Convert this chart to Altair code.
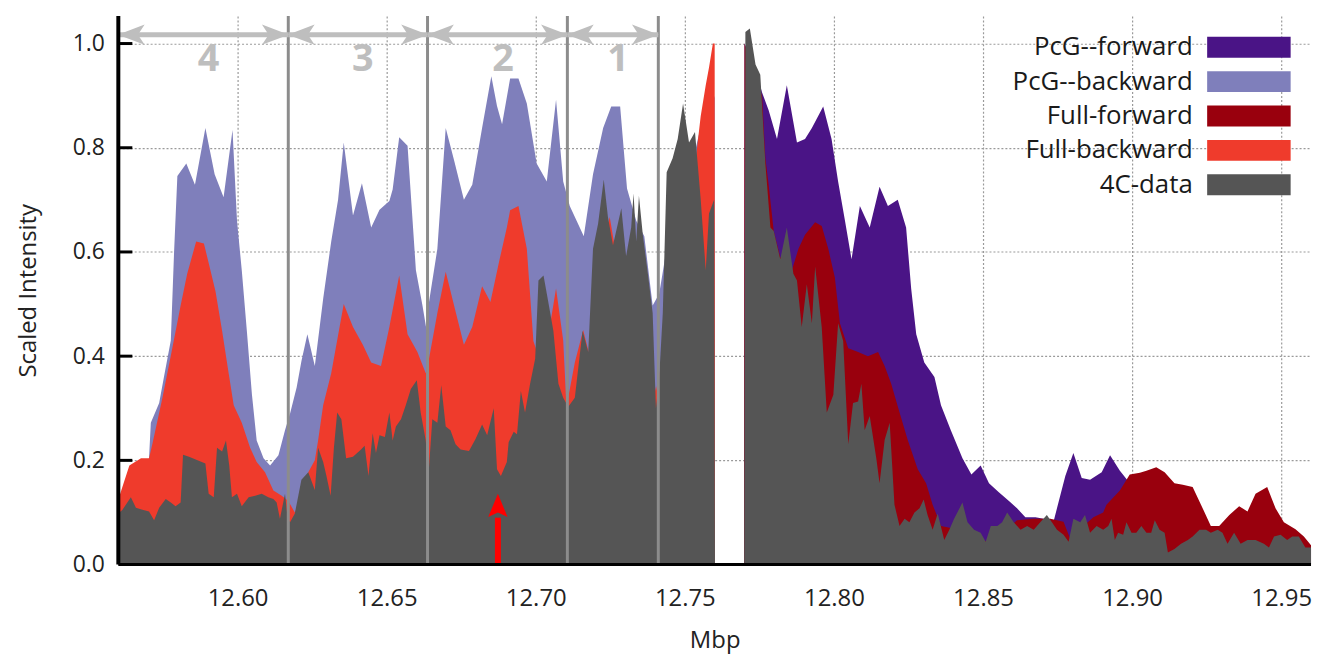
import altair as alt
import pandas as pd

FONT = "Open Sans"

# ---------------- series (legend order) ----------------
SERIES = ["PcG--forward", "PcG--backward", "Full-forward", "Full-backward", "4C-data"]
COLORS = ["#4A1486", "#7F7FBB", "#99000D", "#EF3B2C", "#555555"]
DRAW_ORDER = ["PcG--backward", "PcG--forward", "Full-forward", "Full-backward", "4C-data"]

# ---------------- 4C-data ----------------
c4_x = [12.5600, 12.5614, 12.5642, 12.5659, 12.5681, 12.5703, 12.5720, 12.5737, 12.5759, 12.5776,
        12.5792, 12.5809, 12.5817, 12.5837, 12.5892, 12.5903, 12.5920, 12.5931, 12.5948, 12.5961,
        12.5972, 12.5981, 12.5998, 12.6014, 12.6037, 12.6059, 12.6081, 12.6103, 12.6120, 12.6131,
        12.6142, 12.6159, 12.6168, 12.6176, 12.6192, 12.6214, 12.6237, 12.6259, 12.6270, 12.6287,
        12.6298, 12.6312, 12.6323, 12.6334, 12.6348, 12.6364, 12.6387, 12.6414, 12.6426, 12.6439,
        12.6453, 12.6464, 12.6476, 12.6494, 12.6509, 12.6520, 12.6531, 12.6548, 12.6564, 12.6581,
        12.6601, 12.6614, 12.6631, 12.6640, 12.6653, 12.6670, 12.6683, 12.6698, 12.6714, 12.6731,
        12.6748, 12.6776, 12.6798, 12.6820, 12.6837, 12.6859, 12.6870, 12.6883, 12.6903, 12.6909,
        12.6926, 12.6937, 12.6950, 12.6964, 12.6981, 12.6998, 12.7009, 12.7026, 12.7042, 12.7059,
        12.7076, 12.7092, 12.7109, 12.7131, 12.7157, 12.7176, 12.7192, 12.7209, 12.7228, 12.7242,
        12.7259, 12.7287, 12.7303, 12.7320, 12.7328, 12.7337, 12.7346, 12.7359, 12.7376, 12.7392,
        12.7403, 12.7414, 12.7426, 12.7439, 12.7459, 12.7476, 12.7494, 12.7514, 12.7534, 12.7553,
        12.7570, 12.7581, 12.7598, 12.7601, 12.7699, 12.7703, 12.7718, 12.7737, 12.7753, 12.7770,
        12.7787, 12.7798, 12.7820, 12.7842, 12.7864, 12.7876, 12.7892, 12.7909, 12.7926, 12.7937,
        12.7959, 12.7976, 12.7998, 12.8014, 12.8031, 12.8048, 12.8064, 12.8081, 12.8092, 12.8103,
        12.8120, 12.8142, 12.8153, 12.8170, 12.8187, 12.8203, 12.8220, 12.8237, 12.8253, 12.8270,
        12.8287, 12.8301, 12.8314, 12.8331, 12.8348, 12.8370, 12.8387, 12.8403, 12.8431, 12.8448,
        12.8470, 12.8492, 12.8509, 12.8526, 12.8548, 12.8564, 12.8581, 12.8603, 12.8626, 12.8648,
        12.8670, 12.8692, 12.8714, 12.8731, 12.8748, 12.8770, 12.8787, 12.8803, 12.8826, 12.8842,
        12.8859, 12.8881, 12.8903, 12.8920, 12.8931, 12.8942, 12.8953, 12.8970, 12.8981, 12.8998,
        12.9014, 12.9031, 12.9048, 12.9064, 12.9076, 12.9092, 12.9109, 12.9120, 12.9142, 12.9164,
        12.9187, 12.9203, 12.9226, 12.9248, 12.9264, 12.9287, 12.9303, 12.9320, 12.9342, 12.9364,
        12.9387, 12.9414, 12.9442, 12.9459, 12.9476, 12.9498, 12.9520, 12.9537, 12.9559, 12.9581,
        12.9600]
c4_y = [0.098, 0.105, 0.129, 0.109, 0.105, 0.102, 0.085, 0.109, 0.126, 0.119,
        0.112, 0.119, 0.211, 0.207, 0.194, 0.136, 0.129, 0.224, 0.217, 0.238,
        0.190, 0.129, 0.136, 0.112, 0.129, 0.132, 0.136, 0.129, 0.126, 0.119,
        0.088, 0.136, 0.088, 0.081, 0.098, 0.163, 0.177, 0.143, 0.224, 0.197,
        0.170, 0.132, 0.224, 0.292, 0.279, 0.204, 0.207, 0.221, 0.228, 0.170,
        0.252, 0.214, 0.248, 0.245, 0.292, 0.238, 0.265, 0.279, 0.306, 0.337,
        0.354, 0.292, 0.238, 0.170, 0.279, 0.272, 0.344, 0.265, 0.258, 0.231,
        0.221, 0.218, 0.241, 0.269, 0.248, 0.300, 0.183, 0.170, 0.197, 0.235,
        0.255, 0.250, 0.333, 0.292, 0.347, 0.395, 0.545, 0.555, 0.504, 0.449,
        0.347, 0.320, 0.303, 0.320, 0.449, 0.408, 0.606, 0.654, 0.739, 0.667,
        0.613, 0.684, 0.592, 0.647, 0.712, 0.620, 0.708, 0.633, 0.558, 0.483,
        0.300, 0.360, 0.483, 0.753, 0.780, 0.817, 0.885, 0.810, 0.830, 0.702,
        0.565, 0.674, 0.700, 0.000, 0.000, 1.022, 1.029, 0.960, 0.940, 0.770,
        0.647, 0.640, 0.586, 0.647, 0.558, 0.545, 0.456, 0.538, 0.463, 0.572,
        0.456, 0.292, 0.326, 0.463, 0.429, 0.231, 0.310, 0.313, 0.347, 0.258,
        0.285, 0.204, 0.156, 0.239, 0.272, 0.115, 0.074, 0.088, 0.081, 0.100,
        0.108, 0.125, 0.095, 0.067, 0.098, 0.047, 0.067, 0.088, 0.119, 0.081,
        0.067, 0.061, 0.044, 0.074, 0.074, 0.081, 0.100, 0.081, 0.067, 0.074,
        0.067, 0.081, 0.095, 0.081, 0.067, 0.057, 0.044, 0.088, 0.081, 0.095,
        0.061, 0.074, 0.067, 0.074, 0.088, 0.047, 0.061, 0.057, 0.081, 0.061,
        0.061, 0.074, 0.061, 0.061, 0.085, 0.067, 0.061, 0.023, 0.030, 0.040,
        0.047, 0.054, 0.067, 0.067, 0.061, 0.067, 0.061, 0.040, 0.061, 0.040,
        0.047, 0.047, 0.040, 0.033, 0.054, 0.057, 0.047, 0.054, 0.054, 0.033,
        0.033]

# ---------------- Full-backward ----------------
full_bw_x = [12.5600, 12.5637, 12.5676, 12.5703, 12.5714, 12.5748, 12.5781, 12.5809, 12.5831, 12.5861,
             12.5887, 12.5903, 12.5926, 12.5948, 12.5970, 12.5987, 12.6014, 12.6042, 12.6064, 12.6092,
             12.6120, 12.6148, 12.6170, 12.6192, 12.6214, 12.6237, 12.6259, 12.6270, 12.6287, 12.6314,
             12.6356, 12.6387, 12.6420, 12.6448, 12.6481, 12.6509, 12.6542, 12.6570, 12.6603, 12.6631,
             12.6642, 12.6670, 12.6698, 12.6726, 12.6759, 12.6787, 12.6820, 12.6848, 12.6876, 12.6903,
             12.6914, 12.6942, 12.6970, 12.6992, 12.7009, 12.7048, 12.7068, 12.7092, 12.7103, 12.7131,
             12.7159, 12.7181, 12.7203, 12.7248, 12.7264, 12.7292, 12.7337, 12.7378, 12.7403, 12.7426,
             12.7459, 12.7492, 12.7537, 12.7553, 12.7570, 12.7581, 12.7594, 12.7600, 12.7601]
full_bw_y = [0.125, 0.190, 0.204, 0.204, 0.231, 0.320, 0.415, 0.497, 0.558, 0.620,
             0.616, 0.579, 0.524, 0.449, 0.367, 0.306, 0.272, 0.224, 0.197, 0.177,
             0.142, 0.132, 0.122, 0.100, 0.130, 0.177, 0.200, 0.238, 0.306, 0.367,
             0.500, 0.456, 0.422, 0.388, 0.381, 0.456, 0.555, 0.442, 0.408, 0.367,
             0.395, 0.483, 0.562, 0.497, 0.422, 0.456, 0.534, 0.504, 0.579, 0.647,
             0.680, 0.688, 0.606, 0.429, 0.400, 0.460, 0.530, 0.430, 0.303, 0.388,
             0.450, 0.400, 0.550, 0.667, 0.613, 0.550, 0.500, 0.400, 0.333, 0.400,
             0.550, 0.650, 0.780, 0.860, 0.920, 0.954, 1.000, 1.000, 0.000]

# ---------------- Full-forward ----------------
full_fw_x = [12.7699, 12.7700, 12.7759, 12.7770, 12.7781, 12.7798, 12.7820, 12.7837, 12.7859, 12.7881,
             12.7903, 12.7937, 12.7959, 12.7981, 12.8003, 12.8020, 12.8048, 12.8081, 12.8114, 12.8148,
             12.8170, 12.8192, 12.8220, 12.8248, 12.8281, 12.8309, 12.8331, 12.8359, 12.8392, 12.8448,
             12.8537, 12.8614, 12.8670, 12.8726, 12.8770, 12.8792, 12.8837, 12.8870, 12.8903, 12.8914,
             12.8959, 12.8992, 12.9026, 12.9048, 12.9081, 12.9109, 12.9142, 12.9170, 12.9203, 12.9231,
             12.9264, 12.9292, 12.9326, 12.9359, 12.9387, 12.9414, 12.9453, 12.9481, 12.9509, 12.9548,
             12.9576, 12.9600]
full_fw_y = [0.000, 1.000, 0.900, 0.780, 0.729, 0.640, 0.590, 0.580, 0.565, 0.606,
             0.633, 0.657, 0.650, 0.606, 0.551, 0.463, 0.415, 0.408, 0.400, 0.408,
             0.381, 0.347, 0.292, 0.238, 0.183, 0.156, 0.115, 0.074, 0.070, 0.045,
             0.045, 0.085, 0.088, 0.088, 0.082, 0.050, 0.074, 0.091, 0.100, 0.115,
             0.142, 0.173, 0.176, 0.180, 0.187, 0.177, 0.156, 0.153, 0.149, 0.115,
             0.074, 0.074, 0.095, 0.112, 0.102, 0.136, 0.149, 0.108, 0.081, 0.068,
             0.054, 0.037]

# ---------------- PcG--backward ----------------
pcg_bw_x = [12.5600, 12.5681, 12.5703, 12.5709, 12.5737, 12.5753, 12.5776, 12.5787, 12.5798, 12.5828,
            12.5857, 12.5892, 12.5923, 12.5953, 12.5983, 12.5998, 12.6014, 12.6031, 12.6048, 12.6064,
            12.6087, 12.6109, 12.6137, 12.6159, 12.6176, 12.6198, 12.6214, 12.6234, 12.6259, 12.6287,
            12.6314, 12.6337, 12.6356, 12.6387, 12.6417, 12.6448, 12.6476, 12.6509, 12.6520, 12.6542,
            12.6570, 12.6598, 12.6620, 12.6634, 12.6642, 12.6670, 12.6698, 12.6726, 12.6759, 12.6787,
            12.6820, 12.6851, 12.6870, 12.6887, 12.6914, 12.6942, 12.6970, 12.7003, 12.7037, 12.7068,
            12.7092, 12.7114, 12.7137, 12.7161, 12.7192, 12.7226, 12.7253, 12.7283, 12.7306, 12.7337,
            12.7364, 12.7392, 12.7414, 12.7437, 12.7470, 12.7503, 12.7537, 12.7553, 12.7590, 12.7600,
            12.7601]
pcg_bw_y = [0.120, 0.190, 0.204, 0.272, 0.310, 0.360, 0.430, 0.600, 0.746, 0.770,
            0.729, 0.838, 0.749, 0.705, 0.834, 0.660, 0.565, 0.449, 0.327, 0.238,
            0.204, 0.190, 0.210, 0.258, 0.290, 0.340, 0.390, 0.442, 0.381, 0.510,
            0.620, 0.700, 0.810, 0.670, 0.732, 0.647, 0.681, 0.698, 0.720, 0.820,
            0.804, 0.565, 0.497, 0.449, 0.504, 0.606, 0.838, 0.776, 0.700, 0.729,
            0.838, 0.937, 0.880, 0.845, 0.933, 0.933, 0.885, 0.770, 0.735, 0.892,
            0.735, 0.688, 0.660, 0.630, 0.749, 0.838, 0.879, 0.879, 0.722, 0.660,
            0.630, 0.497, 0.520, 0.600, 0.680, 0.760, 0.800, 0.840, 0.880, 0.900,
            0.000]

# ---------------- PcG--forward ----------------
pcg_fw_x = [12.7699, 12.7700, 12.7737, 12.7759, 12.7781, 12.7809, 12.7842, 12.7876, 12.7903, 12.7926,
            12.7964, 12.7992, 12.8014, 12.8037, 12.8059, 12.8087, 12.8120, 12.8153, 12.8181, 12.8214,
            12.8242, 12.8259, 12.8276, 12.8303, 12.8337, 12.8359, 12.8392, 12.8431, 12.8461, 12.8492,
            12.8520, 12.8553, 12.8587, 12.8614, 12.8642, 12.8676, 12.8703, 12.8731, 12.8748, 12.8776,
            12.8803, 12.8831, 12.8859, 12.8898, 12.8926, 12.8959, 12.8987, 12.9003, 12.9100, 12.9300,
            12.9600]
pcg_fw_y = [0.000, 1.000, 0.950, 0.906, 0.872, 0.817, 0.920, 0.810, 0.817, 0.838,
            0.879, 0.817, 0.735, 0.660, 0.586, 0.688, 0.647, 0.725, 0.688, 0.700,
            0.647, 0.530, 0.442, 0.388, 0.360, 0.306, 0.258, 0.204, 0.173, 0.190,
            0.156, 0.139, 0.122, 0.108, 0.091, 0.091, 0.088, 0.070, 0.108, 0.170,
            0.214, 0.166, 0.163, 0.177, 0.210, 0.180, 0.160, 0.120, 0.080, 0.060,
            0.030]

# ---------------- annotations ----------------
boundary_x = [12.6170, 12.6637, 12.7106, 12.7411]
arrow_start = [12.5600, 12.6170, 12.6637, 12.7106]
arrow_end = [12.6170, 12.6637, 12.7106, 12.7411]
region_labels = ["4", "3", "2", "1"]
region_label_x = [12.5903, 12.6420, 12.6890, 12.7276]
ARROW_LEVEL = 1.017
REGION_LABEL_LEVEL = 0.969
red_arrow_x = [12.6873]

# ---------------- axes ----------------
X_TICKS = [12.60, 12.65, 12.70, 12.75, 12.80, 12.85, 12.90, 12.95]
Y_TICKS = [0.0, 0.2, 0.4, 0.6, 0.8, 1.0]
X_DOMAIN = [12.56, 12.96]
Y_DOMAIN = [0.0, 1.053]

series_data = {
    "PcG--forward": (pcg_fw_x, pcg_fw_y),
    "PcG--backward": (pcg_bw_x, pcg_bw_y),
    "Full-forward": (full_fw_x, full_fw_y),
    "Full-backward": (full_bw_x, full_bw_y),
    "4C-data": (c4_x, c4_y),
}
df = pd.concat(
    [pd.DataFrame({"mbp": xs, "intensity": ys, "series": name}) for name, (xs, ys) in series_data.items()],
    ignore_index=True,
)

x_scale = alt.Scale(domain=X_DOMAIN, nice=False, zero=False)
y_scale = alt.Scale(domain=Y_DOMAIN, nice=False, zero=False)

x_axis = alt.Axis(values=X_TICKS, format=".2f", title="Mbp", labelFontSize=24, labelPadding=22,
                  tickSize=0, domain=False, grid=True, gridColor="#9a9a9a", gridDash=[2, 2],
                  gridWidth=1.2, titleFontSize=24, titlePadding=18, labelFlush=False)
y_axis = alt.Axis(values=Y_TICKS, format=".1f", title="Scaled Intensity", labelFontSize=23,
                  labelPadding=14, tickSize=0, domain=False, grid=True, gridColor="#9a9a9a",
                  gridDash=[2, 2], gridWidth=1.2, titleFontSize=24, titlePadding=32)


def X(field=None, **kw):
    if field is None:
        return alt.X(scale=x_scale, axis=x_axis, **kw)
    return alt.X(field, scale=x_scale, axis=x_axis, **kw)


def Y(field=None, **kw):
    if field is None:
        return alt.Y(scale=y_scale, axis=y_axis, **kw)
    return alt.Y(field, scale=y_scale, axis=y_axis, **kw)


legend = alt.Legend(
    title=None, orient="none", legendX=1124.5, legendY=18.5, padding=0,
    symbolType="M-4,-1H4V1H-4Z", symbolSize=441, symbolStrokeWidth=0, symbolOpacity=1,
    rowPadding=8.6, labelAlign="right", labelOffset=alt.ExprRef(expr="-69.5"),
    labelFontSize=26, labelFont=FONT, labelColor="#1a1a1a", labelLimit=400,
)
color_enc = alt.Color("series:N", scale=alt.Scale(domain=SERIES, range=COLORS), legend=legend)

areas = [
    alt.Chart(df)
    .transform_filter(alt.datum.series == s)
    .mark_area(opacity=1, interpolate="linear")
    .encode(x=X("mbp:Q"), y=Y("intensity:Q", stack=None), color=color_enc)
    for s in DRAW_ORDER
]

bnd = alt.Chart(pd.DataFrame({"mbp": boundary_x})).mark_rule(
    color="#8c8c8c", strokeWidth=3
).encode(x=X("mbp:Q"))

arrows_df = pd.DataFrame({"mbp": arrow_start, "end": arrow_end})
shafts = alt.Chart(arrows_df).mark_rule(color="#BEBEBE", strokeWidth=5).encode(
    x=X("mbp:Q"), x2="end:Q", y=Y(datum=ARROW_LEVEL)
)
heads_left = alt.Chart(arrows_df).mark_point(
    shape="M-1,0L1,-0.75L0.5,0L1,0.75Z", filled=True, size=729, color="#BEBEBE",
    opacity=1, strokeWidth=0, xOffset=13
).encode(x=X("mbp:Q"), y=Y(datum=ARROW_LEVEL))
heads_right = alt.Chart(pd.DataFrame({"mbp": arrow_end})).mark_point(
    shape="M1,0L-1,-0.75L-0.5,0L-1,0.75Z", filled=True, size=729, color="#BEBEBE",
    opacity=1, strokeWidth=0, xOffset=-13
).encode(x=X("mbp:Q"), y=Y(datum=ARROW_LEVEL))
region_txt = alt.Chart(pd.DataFrame({"mbp": region_label_x, "label": region_labels})).mark_text(
    font=FONT, fontSize=38, fontWeight="bold", color="#BEBEBE", baseline="middle", align="center"
).encode(x=X("mbp:Q"), y=Y(datum=REGION_LABEL_LEVEL), text="label:N")

red_df = pd.DataFrame({"mbp": red_arrow_x})
red_shaft = alt.Chart(red_df).mark_rule(color="#FF0000", strokeWidth=6).encode(
    x=X("mbp:Q"), y=Y(datum=0.0), y2=alt.datum(0.09)
)
red_head = alt.Chart(red_df).mark_point(
    shape="M0,-1L0.75,0.8L0,0.45L-0.75,0.8Z", filled=True, size=676, color="#FF0000",
    opacity=1, strokeWidth=0
).encode(x=X("mbp:Q"), y=Y(datum=0.111))

x_line = alt.Chart(pd.DataFrame({"intensity": [0.0]})).mark_rule(
    color="black", strokeWidth=3).encode(y=Y("intensity:Q"))
y_line = alt.Chart(pd.DataFrame({"mbp": [X_DOMAIN[0]]})).mark_rule(
    color="black", strokeWidth=4).encode(x=X("mbp:Q"))
y_ticks = alt.Chart(pd.DataFrame({"intensity": Y_TICKS[1:]})).mark_rule(
    color="black", strokeWidth=3
).encode(y=Y("intensity:Q"), x=X(datum=12.56), x2=alt.datum(12.5647))

chart = (
    alt.layer(*areas, bnd, shafts, heads_left, heads_right, region_txt, red_shaft, red_head,
              x_line, y_line, y_ticks)
    .properties(
        width=1200, height=552,
        autosize=alt.AutoSizeParams(type="none"),
        padding={"left": 111, "top": 6, "right": 3, "bottom": 88},
    )
    .configure_view(stroke=None)
    .configure_axis(labelFont=FONT, titleFont=FONT, labelColor="#222222", titleColor="#222222",
                    titleFontWeight="normal")
)

chart.save("out.html", embed_options={"renderer": "svg", "actions": False})
